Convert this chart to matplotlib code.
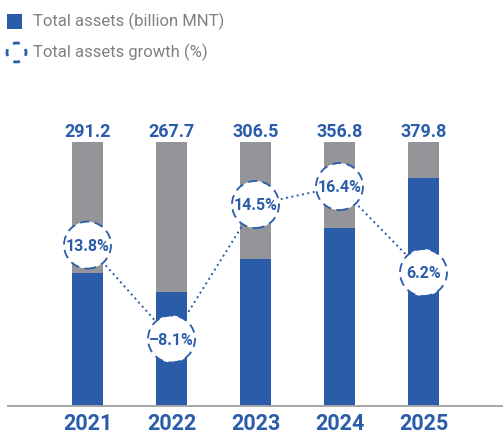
import matplotlib
matplotlib.use("Agg")
import matplotlib.pyplot as plt
from matplotlib.patches import Ellipse, Rectangle

plt.rcParams['font.family'] = ['Roboto', 'DejaVu Sans']

years = ['2021', '2022', '2023', '2024', '2025']
total_assets = [291.2, 267.7, 306.5, 356.8, 379.8]
growth = [13.8, -8.1, 14.5, 16.4, 6.2]
# bar heights as drawn in the chart (gray column = 100)
blue_level = [50.4, 43.1, 55.6, 67.5, 86.5]
gray_level = [100, 100, 100, 100, 100]
# vertical spots of the growth bubbles, same scale
growth_level = [60.9, 25.3, 76.3, 83.1, 50.5]

BLUE = '#2a5caa'
GRAY = '#939598'
TXT_GRAY = '#808080'

W, H = 503, 434
fig = plt.figure(figsize=(W / 100, H / 100), dpi=100)
ax = fig.add_axes([0, 0, 1, 1])
ax.set_xlim(-87.5 / 84, (W - 87.5) / 84)
ax.set_ylim(-28.3 / 2.637, 405.7 / 2.637)
ax.axis('off')

x = range(len(years))
ax.bar(x, gray_level, width=0.37, color=GRAY, zorder=1)
ax.bar(x, blue_level, width=0.37, color=BLUE, zorder=2)
ax.axhline(0, xmin=8 / W, xmax=1, color='#a6a6a6', lw=1.4, zorder=3)

for i in x:
    ax.annotate(f'{total_assets[i]:.1f}', (i, gray_level[i]), xytext=(0, 3.8),
                textcoords='offset points', ha='center', va='baseline',
                color=BLUE, fontsize=13, fontweight='bold')
    ax.annotate(years[i], (i, 0), xytext=(0, -17.6), textcoords='offset points',
                ha='center', va='baseline', color=BLUE, fontsize=15.5,
                fontweight='bold')

# dotted connector
ax.plot(list(x), growth_level, color=BLUE, lw=1.4, ls=(0, (1, 1.8)), zorder=4)

# bubbles
px_x = 1 / 84
px_y = (405.7 / 2.637 + 28.3 / 2.637) / H
d = 47
for i in x:
    e = Ellipse((i, growth_level[i]), d * px_x, d * px_y, facecolor='white',
                edgecolor=BLUE, lw=1.3, ls=(0, (5, 3)), zorder=5)
    ax.add_patch(e)
    lab = f'{growth[i]:.1f}%'.replace('-', '\u2013')
    ax.annotate(lab, (i, growth_level[i]), xytext=(0, -4), textcoords='offset points',
                ha='center', va='baseline', color=BLUE, fontsize=11.5,
                fontweight='bold', zorder=6)

# legend
fig.patches.append(Rectangle((7 / W, 1 - 29 / H), 15 / W, 15 / H, transform=fig.transFigure,
                             facecolor=BLUE, edgecolor='none'))
fig.patches.append(Ellipse((16.5 / W, 1 - 52.5 / H), 19 / W, 19 / H, transform=fig.transFigure,
                           facecolor='none', edgecolor=BLUE, lw=2, ls=(1.25, (2.5, 2.9))))
fig.text(33 / W, 1 - 21.5 / H, 'Total assets (billion MNT)', color=TXT_GRAY,
         fontsize=12, va='center', ha='left')
fig.text(33 / W, 1 - 52.5 / H, 'Total assets growth (%)', color=TXT_GRAY,
         fontsize=12, va='center', ha='left')

fig.savefig('out.png', dpi=100)
